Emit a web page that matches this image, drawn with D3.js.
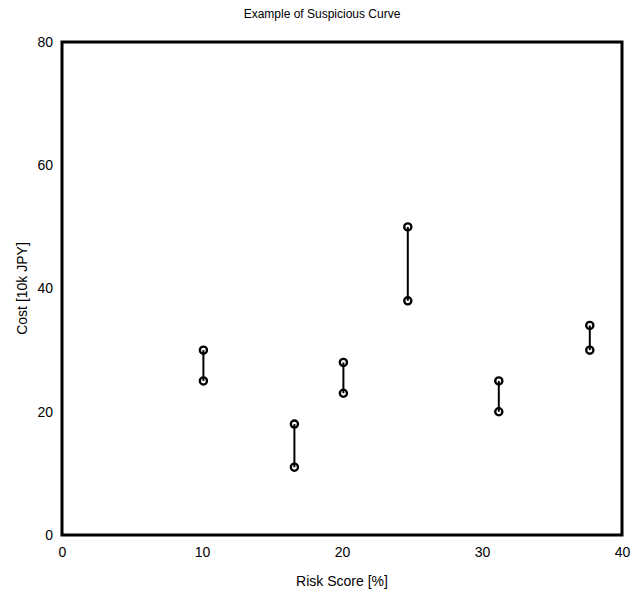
<!DOCTYPE html>
<html>
<head>
<meta charset="utf-8">
<script src="https://cdn.jsdelivr.net/npm/d3@7"></script>
<style>
  body { margin: 0; background: #fff; }
  text { font-family: "Liberation Sans", Arial, sans-serif; }
</style>
</head>
<body>
<div id="chart"></div>
<script>
// Paired cost ranges per risk score
const riskScores = [10.1, 16.6, 20.1, 24.7, 31.2, 37.7];
const costHigh = [30, 18, 28, 50, 25, 34];
const costLow = [25, 11, 23, 38, 20, 30];
const xTicks = [0, 10, 20, 30, 40];
const yTicks = [0, 20, 40, 60, 80];

const width = 633, height = 599;
const margin = {top: 42, right: 10, bottom: 64, left: 62};

const svg = d3.select("#chart").append("svg")
  .attr("width", width)
  .attr("height", height);

const x = d3.scaleLinear().domain([0, 40]).range([margin.left, width - margin.right - 1]);
const y = d3.scaleLinear().domain([0, 80]).range([height - margin.bottom, margin.top]);

// Plot frame
svg.append("rect")
  .attr("x", x(0)).attr("y", y(80))
  .attr("width", x(40) - x(0)).attr("height", y(0) - y(80))
  .attr("fill", "none").attr("stroke", "#000").attr("stroke-width", 3);

// Axes (labels only, no tick marks)
svg.append("g")
  .attr("transform", "translate(0," + y(0) + ")")
  .call(d3.axisBottom(x).tickValues(xTicks).tickSize(0).tickPadding(12))
  .call(g => g.select(".domain").remove())
  .selectAll("text").attr("font-size", 14).attr("fill", "#000");

svg.append("g")
  .attr("transform", "translate(" + x(0) + ",0)")
  .call(d3.axisLeft(y).tickValues(yTicks).tickSize(0).tickPadding(9))
  .call(g => g.select(".domain").remove())
  .selectAll("text").attr("font-size", 14).attr("fill", "#000");

// Vertical range segments
const pairs = riskScores.map((r, i) => ({r: r, hi: costHigh[i], lo: costLow[i]}));

svg.selectAll(".seg")
  .data(pairs)
  .enter().append("line")
  .attr("class", "seg")
  .attr("x1", d => x(d.r)).attr("x2", d => x(d.r))
  .attr("y1", d => y(d.hi)).attr("y2", d => y(d.lo))
  .attr("stroke", "#000").attr("stroke-width", 2);

const points = pairs.flatMap(d => [{r: d.r, v: d.hi}, {r: d.r, v: d.lo}]);
svg.selectAll(".pt")
  .data(points)
  .enter().append("circle")
  .attr("class", "pt")
  .attr("cx", d => x(d.r)).attr("cy", d => y(d.v))
  .attr("r", 3.6)
  .attr("fill", "none").attr("stroke", "#000").attr("stroke-width", 2.3);

// Titles
svg.append("text")
  .attr("x", 322).attr("y", 18)
  .attr("text-anchor", "middle").attr("font-size", 12)
  .text("Example of Suspicious Curve");

svg.append("text")
  .attr("x", (x(0) + x(40)) / 2).attr("y", 586)
  .attr("text-anchor", "middle").attr("font-size", 14)
  .text("Risk Score [%]");

svg.append("text")
  .attr("transform", "translate(27," + ((y(0) + y(80)) / 2) + ") rotate(-90)")
  .attr("text-anchor", "middle").attr("font-size", 14)
  .text("Cost [10k JPY]");
</script>
</body>
</html>
